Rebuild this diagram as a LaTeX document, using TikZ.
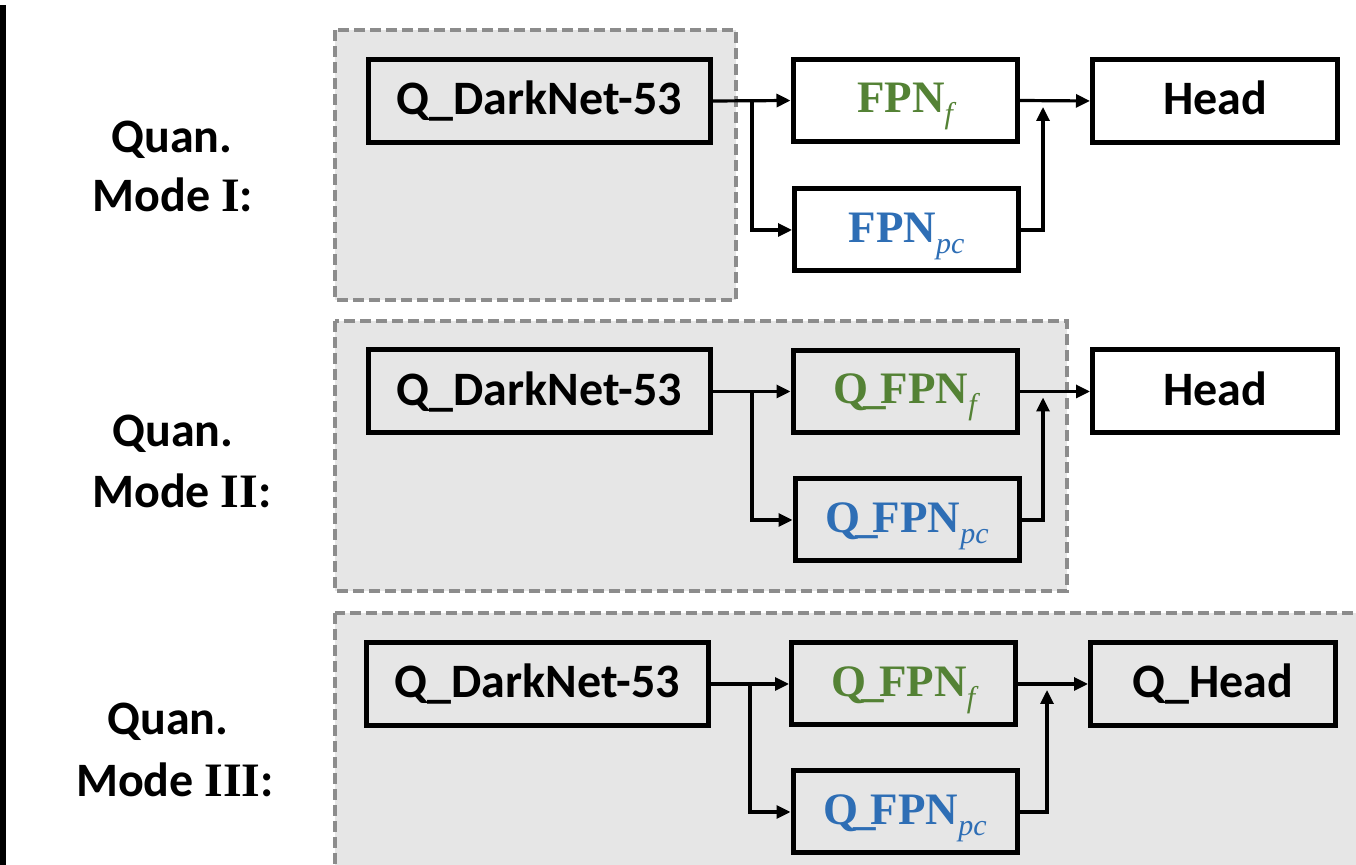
\documentclass[tikz,border=0pt]{standalone}
\usepackage{fontspec}
\setmainfont{Carlito}
\newfontfamily\tnr{Liberation Serif}
\usetikzlibrary{arrows.meta}
\definecolor{fgreen}{HTML}{548235}
\definecolor{fblue}{HTML}{2E6EB5}
\definecolor{panelfill}{HTML}{E6E6E6}
\definecolor{dashgray}{HTML}{8C8C8C}
\newcommand{\subtxt}[1]{\raisebox{-5.5pt}{\fontsize{15}{15}\selectfont\tnr\mdseries\itshape #1}}
\newcommand{\qpre}{Q\kern-2.5pt\_\kern-2.5pt}
\newcommand{\fpnf}[1]{\textcolor{fgreen}{{\tnr\bfseries #1FPN}\subtxt{f}}}
\newcommand{\fpnpc}[1]{\textcolor{fblue}{{\tnr\bfseries #1FPN}\subtxt{pc}}}
\newcommand{\rn}[1]{{\tnr\bfseries #1}}
\begin{document}
\begin{tikzpicture}[x=0.5pt,y=-0.5pt,
  panel/.style={draw=dashgray, line width=1.7pt, dash pattern=on 5.5pt off 2.5pt, fill=panelfill},
  blk/.style={draw=black, line width=2.5pt, inner sep=0pt, font=\fontsize{24}{24}\selectfont\bfseries, text height=14pt, text depth=0pt},
  dark/.style={blk, minimum width=171pt, minimum height=41.5pt},
  head/.style={blk, minimum width=122.5pt, minimum height=41.5pt},
  fpn/.style={blk, minimum width=112pt, minimum height=41pt, font=\fontsize{22.5}{22.5}\selectfont, text height=12.5pt},
  lbl/.style={anchor=base, inner sep=0pt, font=\fontsize{24}{24}\selectfont\bfseries},
  conn/.style={line width=1.6pt},
  arr/.style={conn, -{Triangle[length=7pt,width=6.5pt]}}
]
\useasboundingbox (0,0) rectangle (1356,865);
\clip (0,0) rectangle (1356,865);
\fill[black] (0,5) rectangle (6,870);

% panels
\draw[panel] (335,30) rectangle (736,300);
\draw[panel] (335,321) rectangle (1067,591);
\draw[panel] (335,613) rectangle (1380,885);

% labels
\node[lbl] (q1) at (172,153) {Quan.};
\node[lbl] (m1) at (173,212) {Mode \rn{I}:};
\node[lbl] (q2) at (173,447) {Quan.};
\node[lbl] (m2) at (182,508) {Mode \rn{II}:};
\node[lbl] (q3) at (168,735) {Quan.};
\node[lbl] (m3) at (175,797) {Mode \rn{III}:};

% row 1
\node[dark] (d1) at (539.5,101) {Q\_DarkNet-53};
\node[fpn] (f1) at (905,100.5) {\fpnf{}};
\node[fpn] (p1) at (906.5,230) {\fpnpc{}};
\node[head] (h1) at (1215,101) {Head};
\coordinate (b1) at (752,101);
\coordinate (u1) at (1043,107);
\draw[arr] (d1.east) -- (f1.west);
\draw[arr] (b1) |- (p1.west);
\draw[arr] (p1.east) -| (u1);
\draw[arr] (f1.east) -- (h1.west);

% row 2
\node[dark] (d2) at (539.5,391.5) {Q\_DarkNet-53};
\node[fpn] (f2) at (905,391.5) {\fpnf{\qpre}};
\node[fpn] (p2) at (907,520) {\fpnpc{\qpre}};
\node[head] (h2) at (1215,391.5) {Head};
\coordinate (b2) at (752,391.5);
\coordinate (u2) at (1043,397.5);
\draw[arr] (d2.east) -- (f2.west);
\draw[arr] (b2) |- (p2.west);
\draw[arr] (p2.east) -| (u2);
\draw[arr] (f2.east) -- (h2.west);

% row 3
\node[dark] (d3) at (537.5,684) {Q\_DarkNet-53};
\node[fpn] (f3) at (903.5,684) {\fpnf{\qpre}};
\node[fpn] (p3) at (905,812) {\fpnpc{\qpre}};
\node[head] (h3) at (1213,684) {Q\_Head};
\coordinate (b3) at (750,684);
\coordinate (u3) at (1047,690);
\draw[arr] (d3.east) -- (f3.west);
\draw[arr] (b3) |- (p3.west);
\draw[arr] (p3.east) -| (u3);
\draw[arr] (f3.east) -- (h3.west);
\end{tikzpicture}
\end{document}
